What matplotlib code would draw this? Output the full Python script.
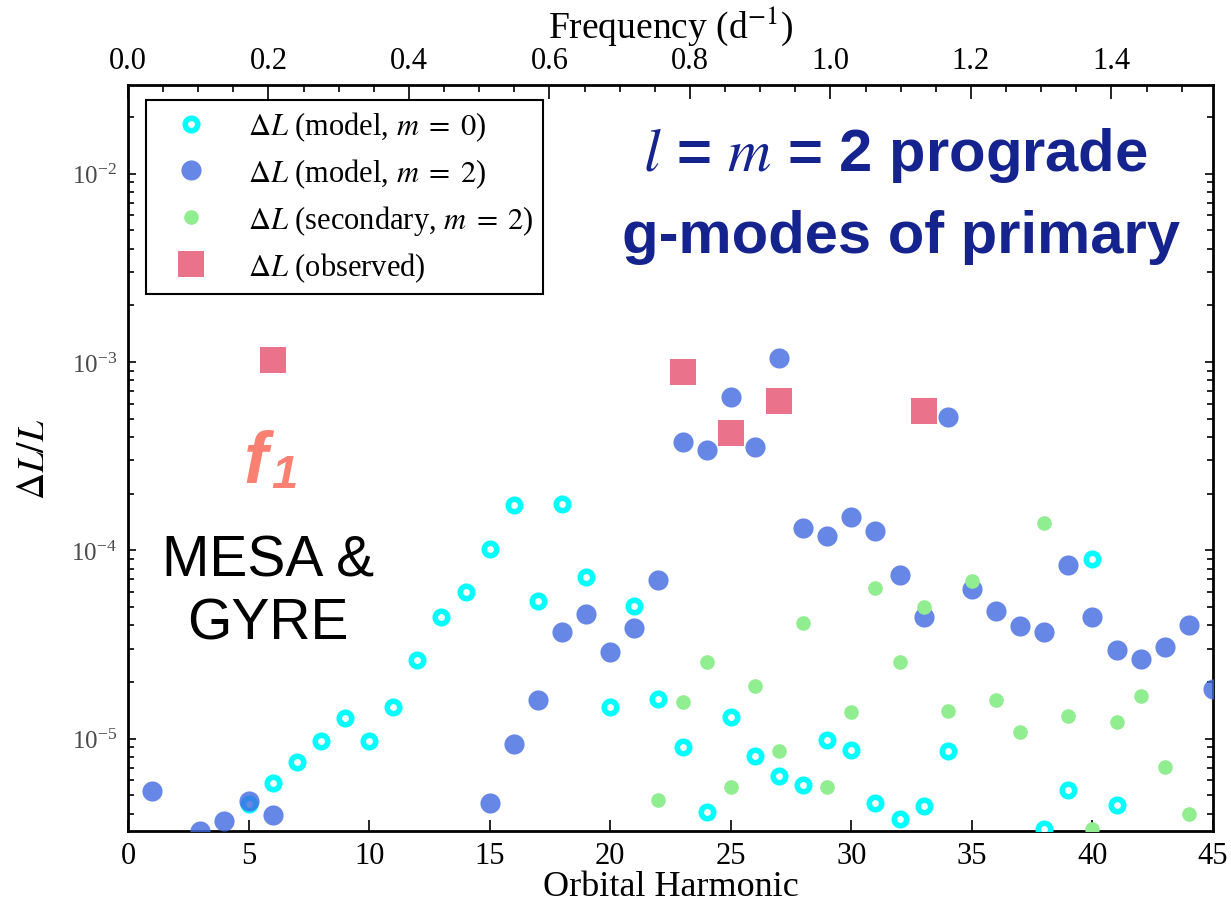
import matplotlib
matplotlib.use("Agg")
import matplotlib.pyplot as plt
from matplotlib.ticker import MultipleLocator, FixedLocator, FormatStrFormatter

# orbital period of the binary (days), used for the frequency axis on top
P_ORB = 29.133
freq_ticks = [0.0, 0.2, 0.4, 0.6, 0.8, 1.0, 1.2, 1.4]

# model, m = 0 (open cyan circles)
harm_m0 = [5, 6, 7, 8, 9, 10, 11, 12, 13, 14, 15, 16, 17, 18, 19, 20, 21, 22, 23,
           24, 25, 26, 27, 28, 29, 30, 31, 32, 33, 34, 38, 39, 40, 41]
dl_m0 = [4.5e-6, 5.85e-6, 7.55e-6, 9.75e-6, 1.28e-5, 9.75e-6, 1.48e-5, 2.62e-5,
         4.42e-5, 6.0e-5, 1.01e-4, 1.75e-4, 5.37e-5, 1.77e-4, 7.2e-5, 1.48e-5,
         5.06e-5, 1.63e-5, 9.08e-6, 4.06e-6, 1.31e-5, 8.1e-6, 6.37e-6, 5.71e-6,
         9.88e-6, 8.75e-6, 4.58e-6, 3.77e-6, 4.37e-6, 8.64e-6, 3.3e-6, 5.31e-6,
         8.95e-5, 4.43e-6]

# model, m = 2 (filled blue circles)
harm_m2 = [1, 3, 4, 5, 6, 15, 16, 17, 18, 19, 20, 21, 22, 23, 24, 25, 26, 27,
           28, 29, 30, 31, 32, 33, 34, 35, 36, 37, 38, 39, 40, 41, 42, 43, 44, 45]
dl_m2 = [5.25e-6, 3.25e-6, 3.64e-6, 4.65e-6, 3.92e-6, 4.53e-6, 9.4e-6, 1.61e-5,
         3.7e-5, 4.58e-5, 2.9e-5, 3.87e-5, 6.97e-5, 3.78e-4, 3.42e-4, 6.53e-4,
         3.55e-4, 1.05e-3, 1.32e-4, 1.19e-4, 1.51e-4, 1.26e-4, 7.38e-5, 4.42e-5,
         5.12e-4, 6.22e-5, 4.75e-5, 3.98e-5, 3.7e-5, 8.36e-5, 4.44e-5, 2.97e-5,
         2.65e-5, 3.07e-5, 4.01e-5, 1.84e-5]

# secondary, m = 2 (small green circles)
harm_sec = [22, 23, 24, 25, 26, 27, 28, 29, 30, 31, 32, 33, 34, 35, 36, 37, 38,
            39, 40, 41, 42, 43, 44]
dl_sec = [4.7e-6, 1.57e-5, 2.56e-5, 5.57e-6, 1.91e-5, 8.57e-6, 4.11e-5, 5.51e-6,
          1.39e-5, 6.3e-5, 2.56e-5, 4.99e-5, 1.41e-5, 6.85e-5, 1.61e-5, 1.09e-5,
          1.39e-4, 1.32e-5, 3.3e-6, 1.23e-5, 1.69e-5, 7.1e-6, 4.0e-6]

# observed amplitudes (squares)
harm_obs = [6, 23, 25, 27, 33]
dl_obs = [1.02e-3, 8.85e-4, 4.21e-4, 6.22e-4, 5.46e-4]

plt.rcParams["font.family"] = "serif"
plt.rcParams["font.serif"] = ["Liberation Serif", "DejaVu Serif"]
plt.rcParams["mathtext.fontset"] = "stix"

W, H = 1231, 903
fig = plt.figure(figsize=(W / 100, H / 100), dpi=100)
ax = fig.add_axes([128 / W, 1 - 832 / H, 1085 / W, 746 / H])

ax.plot(harm_m0, dl_m0, "o", ls="none", ms=9, mfc="white", mec="cyan", mew=4,
        label=r"$\Delta L$ (model, $m\;=\;0$)", zorder=3)
ax.plot(harm_m2, dl_m2, "o", ls="none", ms=14.5, color="royalblue", alpha=0.8,
        mew=0, label=r"$\Delta L$ (model, $m\;=\;2$)", zorder=4)
ax.plot(harm_sec, dl_sec, "o", ls="none", ms=10.5, color="lightgreen", mew=0,
        label=r"$\Delta L$ (secondary, $m\;=\;2$)", zorder=5)
ax.plot(harm_obs, dl_obs, "s", ls="none", ms=19, color="crimson", alpha=0.6,
        mew=0, label=r"$\Delta L$ (observed)", zorder=2)

ax.set_yscale("log")
ax.set_xlim(0, 45)
ax.set_ylim(10 ** -5.49, 10 ** -1.53)
ax.xaxis.set_major_locator(MultipleLocator(5))

for s in ax.spines.values():
    s.set_linewidth(2)
ax.tick_params(which="both", direction="in", right=True, top=False, width=1.2)
ax.tick_params(axis="x", which="major", length=8, labelsize=22, pad=7)
ax.tick_params(axis="y", which="major", length=6, labelsize=18, pad=8,
               labelcolor="#4a4a4a")
ax.tick_params(axis="y", which="minor", length=4)

ax.set_xlabel("Orbital Harmonic", fontsize=26, labelpad=0)
ax.set_ylabel(r"$\Delta L/L$", fontsize=27)
ax.yaxis.set_label_coords(-0.07, 0.5)

# frequency axis on top
secax = ax.secondary_xaxis("top", functions=(lambda h: h / P_ORB, lambda f: f * P_ORB))
secax.xaxis.set_major_locator(FixedLocator(freq_ticks))
secax.xaxis.set_minor_locator(MultipleLocator(0.05))
secax.xaxis.set_major_formatter(FormatStrFormatter("%.1f"))
secax.tick_params(which="major", direction="in", length=10, width=1.2, labelsize=22, pad=7)
secax.tick_params(which="minor", direction="in", length=5, width=1.2)
secax.set_xlabel(r"Frequency (d$^{-1}$)", fontsize=27, labelpad=7)

leg = ax.legend(loc="upper left", bbox_to_anchor=(0.0166, 0.980), borderaxespad=0,
                fontsize=22, numpoints=1, handlelength=2.3, handletextpad=0.72,
                borderpad=0.32, labelspacing=0.43, fancybox=False, framealpha=1,
                edgecolor="black")
leg.get_frame().set_linewidth(1.5)

# slide annotations
navy = "#15238f"
fig.text(895 / W, 1 - 171 / H, r"$l$ = $m$ = 2 prograde", color=navy, fontsize=43,
         fontweight="bold", family="Liberation Sans", ha="center", va="baseline")
fig.text(901 / W, 1 - 253 / H, "g-modes of primary", color=navy, fontsize=43,
         fontweight="bold", family="Liberation Sans", ha="center", va="baseline")
fig.text(243 / W, 1 - 483 / H, "f", color="salmon", fontsize=52, fontweight="bold",
         fontstyle="italic", family="Liberation Sans", ha="left", va="baseline")
fig.text(271 / W, 1 - 488 / H, "1", color="salmon", fontsize=34, fontweight="bold",
         fontstyle="italic", family="Liberation Sans", ha="left", va="baseline")
fig.text(268 / W, 1 - 593 / H, "MESA &\nGYRE", color="black", fontsize=41,
         family="Liberation Sans", ha="center", va="center", linespacing=1.2)

fig.savefig("out.png", dpi=100)
